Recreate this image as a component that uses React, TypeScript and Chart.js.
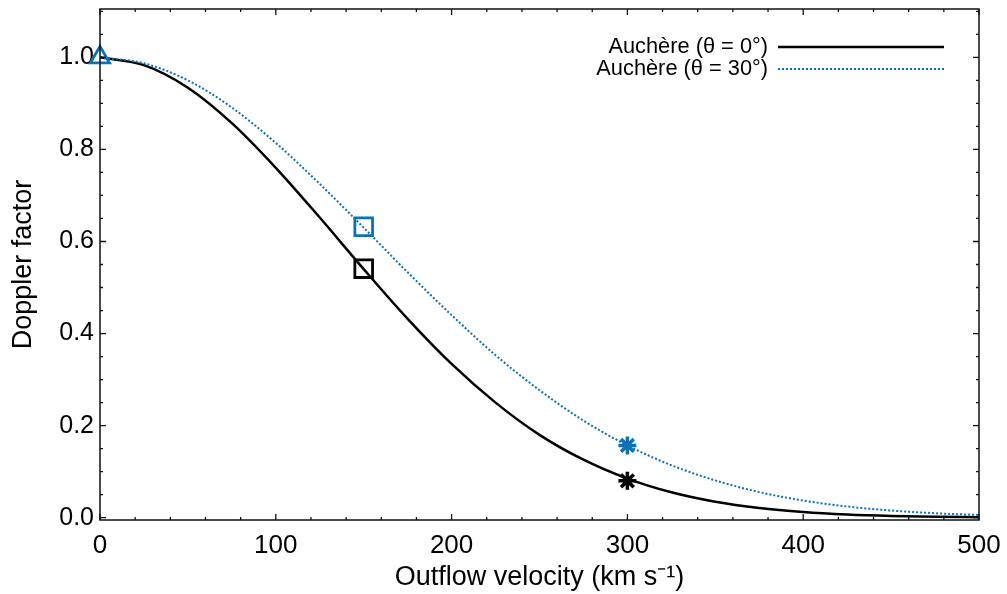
import React, { useEffect, useRef } from "react";
import { Chart, registerables } from "chart.js";

Chart.register(...registerables);

const velocities = [0, 25, 50, 75, 100, 125, 150, 175, 200, 225, 250, 275, 300, 325, 350, 375, 400, 425, 450, 475, 500];
const dopplerTheta0 = [1.0, 0.983, 0.934, 0.857, 0.76, 0.652, 0.54, 0.432, 0.334, 0.25, 0.18, 0.126, 0.085, 0.0553, 0.0348, 0.0212, 0.0125, 0.0071, 0.0039, 0.0021, 0.0011];
const dopplerTheta30 = [1.0, 0.987, 0.95, 0.891, 0.814, 0.725, 0.63, 0.533, 0.44, 0.353, 0.277, 0.211, 0.157, 0.114, 0.081, 0.0556, 0.0373, 0.0244, 0.0156, 0.0097, 0.0059];

const triangleMarker = [{ x: 0, y: 1.0 }];
const squareBlack = [{ x: 150, y: 0.541 }];
const squareBlue = [{ x: 150, y: 0.632 }];
const starBlack = [{ x: 300, y: 0.08 }];
const starBlue = [{ x: 300, y: 0.157 }];

const xTicks = [0, 100, 200, 300, 400, 500];
const yTicks = [0, 0.2, 0.4, 0.6, 0.8, 1.0];
const legendLabels = ["Auchère (θ = 0°)", "Auchère (θ = 30°)"];

const BLUE = "#0b72b5";
const FONT = "'Liberation Sans', Arial, Helvetica, sans-serif";

const framePlugin = {
  id: "frameTicks",
  afterDraw(chart: any) {
    const { ctx, chartArea } = chart;
    const xs = chart.scales.x;
    const ys = chart.scales.y;
    const { left, right, top, bottom } = chartArea;
    ctx.save();
    ctx.strokeStyle = "#111";
    ctx.lineWidth = 1.5;
    ctx.strokeRect(left, top, right - left, bottom - top);
    ctx.lineWidth = 1.3;
    ctx.beginPath();
    for (let v = 0; v <= 500; v += 20) {
      const px = xs.getPixelForValue(v);
      const len = v % 100 === 0 ? 6 : 3;
      ctx.moveTo(px, bottom);
      ctx.lineTo(px, bottom - len);
      ctx.moveTo(px, top);
      ctx.lineTo(px, top + len);
    }
    for (let i = 0; i <= 22; i++) {
      const v = i * 0.05;
      const py = ys.getPixelForValue(v);
      if (py < top - 0.5 || py > bottom + 0.5) continue;
      const len = i % 4 === 0 ? 6 : 3;
      ctx.moveTo(left, py);
      ctx.lineTo(left + len, py);
      ctx.moveTo(right, py);
      ctx.lineTo(right - len, py);
    }
    ctx.stroke();

    // legend
    ctx.font = `21.8px ${FONT}`;
    ctx.fillStyle = "#000";
    ctx.textAlign = "right";
    ctx.textBaseline = "middle";
    ctx.fillText(legendLabels[0], 768, 47);
    ctx.fillText(legendLabels[1], 768, 69);
    ctx.beginPath();
    ctx.strokeStyle = "#000";
    ctx.lineWidth = 2.5;
    ctx.moveTo(778, 47);
    ctx.lineTo(944, 47);
    ctx.stroke();
    ctx.beginPath();
    ctx.strokeStyle = BLUE;
    ctx.lineWidth = 2;
    ctx.setLineDash([2, 2]);
    ctx.moveTo(778, 69);
    ctx.lineTo(944, 69);
    ctx.stroke();
    ctx.restore();
  },
};

export default function App() {
  const canvasRef = useRef<HTMLCanvasElement>(null);

  useEffect(() => {
    document.body.style.margin = "0";
    const canvas = canvasRef.current;
    if (!canvas) return;
    const toXY = (ys: number[]) => velocities.map((v, i) => ({ x: v, y: ys[i] }));
    const marker = (data: any[], style: string, color: string, radius: number, bw: number) => ({
      data,
      showLine: false,
      clip: false,
      pointStyle: style,
      pointRadius: radius,
      pointBorderColor: color,
      pointBackgroundColor: "rgba(0,0,0,0)",
      pointBorderWidth: bw,
      borderColor: color,
      order: 0,
    });
    const chart = new Chart(canvas, {
      type: "line",
      data: {
        datasets: [
          marker(triangleMarker, "triangle", BLUE, 11, 2.8),
          marker(squareBlack, "rect", "#000", 12.5, 2.8),
          marker(squareBlue, "rect", BLUE, 12.5, 2.8),
          marker(starBlack, "star", "#000", 9, 3.5),
          marker(starBlue, "star", BLUE, 9, 3.5),
          {
            data: toXY(dopplerTheta0),
            borderColor: "#000",
            borderWidth: 2.5,
            pointRadius: 0,
            cubicInterpolationMode: "monotone",
            order: 2,
          },
          {
            data: toXY(dopplerTheta30),
            borderColor: BLUE,
            borderWidth: 2,
            borderDash: [2, 2],
            pointRadius: 0,
            cubicInterpolationMode: "monotone",
            order: 1,
          },
        ] as any,
      },
      options: {
        animation: false,
        responsive: false,
        maintainAspectRatio: false,
        layout: { autoPadding: false, padding: { left: 0, top: 9, right: 28, bottom: 0 } },
        plugins: { legend: { display: false }, tooltip: { enabled: false } },
        scales: {
          x: {
            type: "linear",
            min: 0,
            max: 500,
            grid: { display: false, drawTicks: false },
            border: { display: false },
            afterBuildTicks: (s: any) => {
              s.ticks = xTicks.map((v) => ({ value: v }));
            },
            afterFit: (s: any) => {
              s.height = 74;
              s.paddingLeft = 0;
              s.paddingRight = 0;
            },
            ticks: {
              color: "#000",
              font: { family: FONT, size: 26 },
              padding: 10,
              maxRotation: 0,
              callback: (v: any) => String(v),
            },
            title: {
              display: true,
              text: "Outflow velocity (km s⁻¹)",
              color: "#000",
              font: { family: FONT, size: 27 },
              padding: { top: 0, bottom: 0 },
            },
          },
          y: {
            type: "linear",
            min: -0.005,
            max: 1.105,
            grid: { display: false, drawTicks: false },
            border: { display: false },
            afterBuildTicks: (s: any) => {
              s.ticks = yTicks.map((v) => ({ value: v }));
            },
            afterFit: (s: any) => {
              s.width = 100;
              s.paddingTop = 0;
              s.paddingBottom = 0;
            },
            ticks: {
              color: "#000",
              font: { family: FONT, size: 25 },
              padding: 6,
              callback: (v: any) => Number(v).toFixed(1),
            },
            title: {
              display: true,
              text: "Doppler factor",
              color: "#000",
              font: { family: FONT, size: 27 },
              padding: { top: 7, bottom: 0 },
            },
          },
        },
      },
      plugins: [framePlugin],
    });
    return () => chart.destroy();
  }, []);

  return (
    <div style={{ width: 1007, height: 594, background: "#fff" }}>
      <canvas ref={canvasRef} width={1007} height={594} style={{ display: "block" }} />
    </div>
  );
}
